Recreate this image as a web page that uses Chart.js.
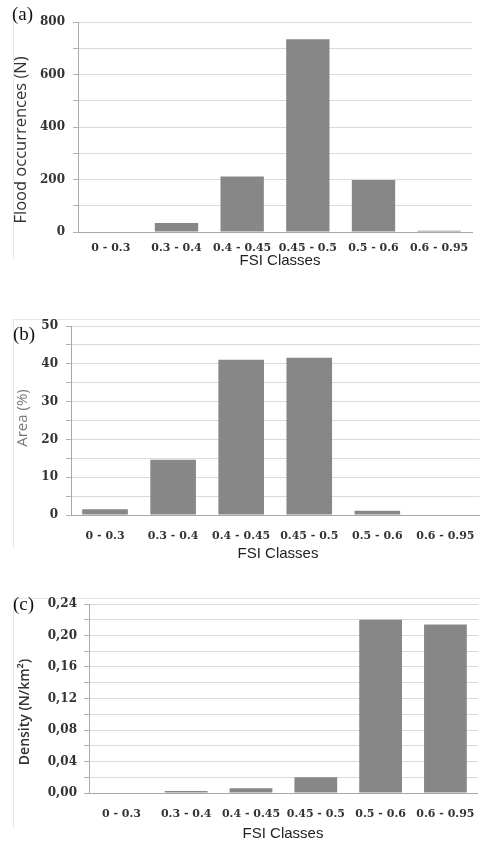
<!DOCTYPE html>
<html><head><meta charset="utf-8">
<script src="https://cdn.jsdelivr.net/npm/chart.js@4.4.0/dist/chart.umd.min.js"></script>
<style>
html,body{margin:0;padding:0;width:480px;height:841px;overflow:hidden;background:#fff;position:relative}
canvas{position:absolute;left:0}
.lab{position:absolute;font-family:"Liberation Serif",serif;font-size:19px;line-height:19px;color:#111}
.frame{position:absolute;border-left:1px solid #e6e6e6;border-top:1px solid #e6e6e6}
</style></head><body>
<div class="frame" style="left:13px;top:20px;width:480px;height:238px;border-top:none"></div>
<div class="frame" style="left:13px;top:319px;width:480px;height:228px"></div>
<div class="frame" style="left:13px;top:598px;width:480px;height:229px"></div>
<canvas id="ca" width="480" height="280" style="top:0px"></canvas>
<canvas id="cb" width="490" height="300" style="top:280px"></canvas>
<canvas id="cc" width="490" height="300" style="top:560px"></canvas>
<div class="lab" style="left:12px;top:4px">(a)</div>
<div class="lab" style="left:13px;top:324px">(b)</div>
<div class="lab" style="left:13px;top:594px">(c)</div>
<script>
// ---- data ----
const categories = ['0 - 0.3', '0.3 - 0.4', '0.4 - 0.45', '0.45 - 0.5', '0.5 - 0.6', '0.6 - 0.95'];
const floodOccurrences = [0, 34, 211, 734, 198, 5];
const areaPercent = [1.5, 14.6, 41.1, 41.6, 1.1, 0];
const densityValues = [0, 0.0025, 0.006, 0.020, 0.220, 0.214];
const floodTickLabels = ['0', '200', '400', '600', '800'];
const areaTickLabels = ['0', '10', '20', '30', '40', '50'];
const densityTickLabels = ['0,00', '0,04', '0,08', '0,12', '0,16', '0,20', '0,24'];
const xTitle = 'FSI Classes';

function labelCallback(labels) {
  const vals = labels.map(s => parseFloat(s.replace(',', '.')));
  return function (v) {
    const i = vals.findIndex(t => Math.abs(t - v) < 1e-7);
    return i >= 0 ? labels[i] : '';
  };
}

// draws the axis titles at chosen centres
const axisTitlePlugin = {
  id: 'axisTitles',
  afterDraw(chart, args, opts) {
    const ctx = chart.ctx;
    (opts.items || []).forEach(it => {
      ctx.save();
      ctx.font = it.font;
      ctx.fillStyle = it.color;
      ctx.textAlign = 'center';
      ctx.textBaseline = 'middle';
      ctx.translate(it.x, it.y);
      if (it.rotate) ctx.rotate(-Math.PI / 2);
      ctx.fillText(it.text, 0, 0);
      ctx.restore();
    });
  }
};

function makeChart(id, values, yLabels, step, yTitle, P) {
  const vals = yLabels.map(s => parseFloat(s.replace(',', '.')));
  new Chart(document.getElementById(id), {
    type: 'bar',
    plugins: [axisTitlePlugin],
    data: {
      labels: categories,
      datasets: [{
        data: values,
        backgroundColor: '#878787',
        borderWidth: 0,
        categoryPercentage: P.cat,
        barPercentage: 1
      }]
    },
    options: {
      responsive: false,
      animation: false,
      devicePixelRatio: 1,
      layout: { padding: { left: 0, top: P.top, right: P.right, bottom: 0 } },
      plugins: {
        legend: { display: false }, tooltip: { enabled: false },
        axisTitles: {
          items: [
            { text: yTitle, x: P.yTitleX, y: P.yTitleY, rotate: true, font: P.yTitleFont, color: P.yTitleColor },
            { text: xTitle, x: P.xTitleX, y: P.xTitleY, rotate: false, font: '15px "Liberation Sans"', color: '#222' }
          ]
        }
      },
      scales: {
        x: {
          grid: { display: false, drawTicks: false },
          border: { display: true, color: '#a8a8a8', width: 1 },
          ticks: {
            font: { family: 'DejaVu Serif', size: 11, weight: 'bold' },
            color: '#333', padding: P.xTickPad, autoSkip: false, maxRotation: 0, minRotation: 0
          },
          afterFit: s => { s.height = P.xHeight; }
        },
        y: {
          min: vals[0], max: vals[vals.length - 1],
          grid: { color: '#dadada', lineWidth: 1, tickLength: 5, tickColor: '#b0b0b0' },
          border: { display: true, color: '#a8a8a8', width: 1 },
          ticks: {
            stepSize: step, autoSkip: false, padding: P.yTickPad,
            font: { family: 'DejaVu Serif', size: 12, weight: 'bold' },
            color: '#333',
            callback: labelCallback(yLabels)
          },
          afterFit: s => { s.width = P.yWidth; }
        }
      }
    }
  });
}

makeChart('ca', floodOccurrences, floodTickLabels, 100, 'Flood occurrences (N)', {
  cat: 0.66, top: 22, right: 8, yWidth: 78, xHeight: 48,
  xTickPad: 10, yTickPad: 8,
  yTitleX: 21, yTitleY: 140, xTitleX: 280, xTitleY: 261,
  yTitleFont: '16.5px "Open Sans"', yTitleColor: '#333'
});
makeChart('cb', areaPercent, areaTickLabels, 5, 'Area (%)', {
  cat: 0.67, top: 46, right: 6, yWidth: 71, xHeight: 65,
  xTickPad: 15, yTickPad: 8,
  yTitleX: 23, yTitleY: 138, xTitleX: 278, xTitleY: 274,
  yTitleFont: '15px "Open Sans"', yTitleColor: '#777'
});
makeChart('cc', densityValues, densityTickLabels, 0.02, 'Density (N/km²)', {
  cat: 0.66, top: 44, right: 6, yWidth: 89, xHeight: 67,
  xTickPad: 15, yTickPad: 7,
  yTitleX: 25, yTitleY: 152, xTitleX: 283, xTitleY: 274,
  yTitleFont: '600 14px "Open Sans"', yTitleColor: '#333'
});
</script>
</body></html>
